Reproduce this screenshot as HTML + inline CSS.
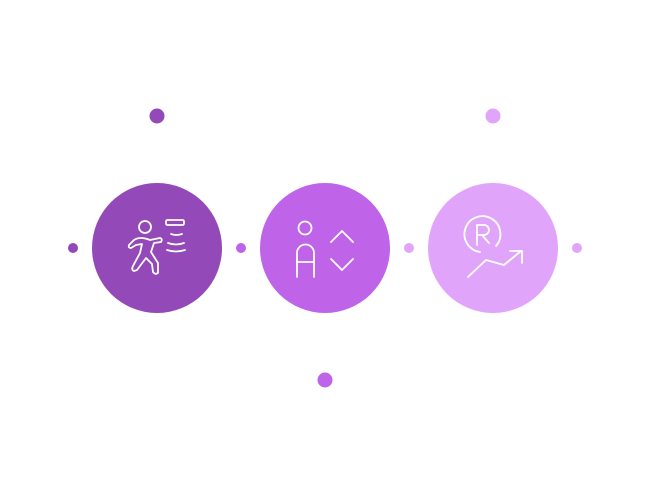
<!DOCTYPE html>
<html><head><style>
html,body{margin:0;padding:0;background:#fff;width:650px;height:489px;overflow:hidden}
</style></head><body>
<svg width="650" height="489" viewBox="0 0 650 489" xmlns="http://www.w3.org/2000/svg">
<circle cx="157" cy="116" r="7.5" fill="#9349b8"/>
<circle cx="493" cy="116" r="7.5" fill="#e0a5fb"/>
<circle cx="325" cy="380" r="7.5" fill="#bf63e9"/>
<circle cx="73" cy="248" r="5" fill="#9349b8"/>
<circle cx="241" cy="248" r="5" fill="#bf63e9"/>
<circle cx="409" cy="248" r="5" fill="#e0a5fb"/>
<circle cx="577" cy="248" r="5" fill="#e0a5fb"/>
<circle cx="157" cy="248" r="65" fill="#9349b8"/>
<circle cx="325" cy="248" r="65" fill="#bf63e9"/>
<circle cx="493" cy="248" r="65" fill="#e0a5fb"/>
<g fill="none" stroke="#fff" stroke-width="1.8" stroke-linecap="round" stroke-linejoin="round">
<!-- runner -->
<circle cx="145" cy="227" r="6"/>
<rect x="166" y="220" width="18" height="5" rx="1.5"/>
<path d="M171 234 Q176 236 182 234"/>
<path d="M168 243 Q176 246 184 243"/>
<path d="M167 250 Q176 253 185 250"/>
<path d="M160 238 L150 240 Q140 236 134 240 L129 245 Q128 248 131 248 L136 245 L142 244 L140 253 L133 266 Q131 270 134 271 L137 270 L146 258 L152 264 L153 272 Q155 275 158 273 L158 263 L151 252 L154 243 L161 242 Q163 239 160 238 Z"/>
<!-- person A -->
<circle cx="305" cy="228" r="6.5"/>
<path d="M297 277 V253 A8.5 8.5 0 0 1 314 253 V277"/>
<path d="M297 262 H314"/>
<path d="M331 242 L342 231 L353 242"/>
<path d="M331 259 L342 270 L353 259"/>
<!-- R growth -->
<path d="M496 246 A18 18 0 1 0 480 252"/>
<path d="M477 245 V225 H484 A5 5 0 0 1 484 235 H477 M482 235 L489 243"/>
<path d="M468 277 L486 260 L504 265 L521 251"/>
<path d="M510 251 H522 V263"/>
</g>
</svg>
</body></html>
